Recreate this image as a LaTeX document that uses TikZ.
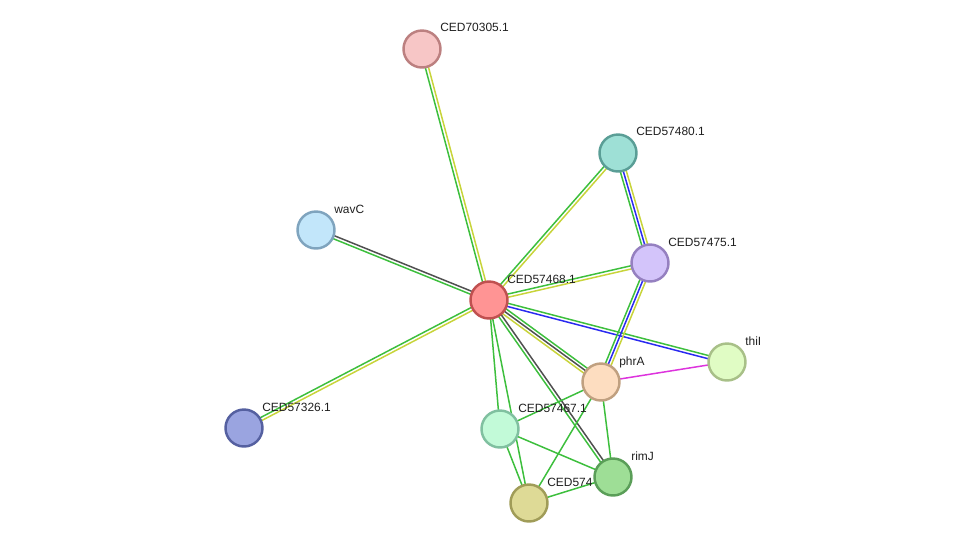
\documentclass[tikz,border=0pt]{standalone}
\usepackage{fontspec}
\setmainfont{Liberation Sans}
\usepackage{tikz}
\usetikzlibrary{calc,backgrounds}

\definecolor{lgreen}{HTML}{3DBF3D}
\definecolor{lyellow}{HTML}{C8D43A}
\definecolor{lgray}{HTML}{505050}
\definecolor{lblue}{HTML}{2A2AF0}
\definecolor{lmagenta}{HTML}{DD33DD}

% one coloured strand of a link, shifted sideways by #1
\newcommand{\lnk}[4][0pt]{%
  \draw[edge, draw=#4] ($(#2)!#1!90:(#3)$) -- ($(#3)!#1!-90:(#2)$);}

\begin{document}
\begin{tikzpicture}[
    x=0.02cm, y=-0.02cm,
    prot/.style={circle, line width=1.4pt, minimum size=0.74cm, inner sep=0pt},
    lbl/.style={anchor=base west, font=\fontsize{6.8}{8}\selectfont, inner sep=0pt, text=black!88},
    edge/.style={line width=0.85pt}
]
  \useasboundingbox (0,0) rectangle (975,549);

  \node[prot, fill={rgb,255:red,247;green,198;blue,198}, draw={rgb,255:red,188;green,128;blue,128}] (n70305) at (422,49) {};
  \node[prot, fill={rgb,255:red,158;green,224;blue,214}, draw={rgb,255:red,90;green,158;blue,150}] (n57480) at (618,153) {};
  \node[prot, fill={rgb,255:red,194;green,230;blue,250}, draw={rgb,255:red,127;green,164;blue,190}] (nwavC) at (316,230) {};
  \node[prot, fill={rgb,255:red,211;green,196;blue,250}, draw={rgb,255:red,149;green,128;blue,192}] (n57475) at (650,263) {};
  \node[prot, fill={rgb,255:red,255;green,148;blue,148}, draw={rgb,255:red,192;green,80;blue,80}] (n468) at (489,300) {};
  \node[prot, fill={rgb,255:red,224;green,252;blue,196}, draw={rgb,255:red,168;green,192;blue,136}] (nthiI) at (727,362) {};
  \node[prot, fill={rgb,255:red,253;green,221;blue,192}, draw={rgb,255:red,192;green,160;blue,128}] (nphrA) at (601,382) {};
  \node[prot, fill={rgb,255:red,154;green,164;blue,224}, draw={rgb,255:red,85;green,96;blue,160}] (n57326) at (244,428) {};
  \node[prot, fill={rgb,255:red,194;green,250;blue,216}, draw={rgb,255:red,128;green,192;blue,160}] (n57467) at (500,429) {};
  \node[prot, fill={rgb,255:red,222;green,218;blue,150}, draw={rgb,255:red,160;green,156;blue,88}] (n574) at (529,503) {};
  \node[prot, fill={rgb,255:red,158;green,222;blue,150}, draw={rgb,255:red,90;green,158;blue,88}] (nrimJ) at (613,477) {};

  \node[lbl] (l70305) at (440,31.8) {CED70305.1};
  \node[lbl] (l57480) at (636,135.8) {CED57480.1};
  \node[lbl] (lwavC) at (334,213.8) {wavC};
  \node[lbl] (l57475) at (668,246.8) {CED57475.1};
  \node[lbl] (l468) at (507,283.8) {CED57468.1};
  \node[lbl] (lthiI) at (745,345.8) {thiI};
  \node[lbl] (lphrA) at (619,365.8) {phrA};
  \node[lbl] (l57326) at (262,411.8) {CED57326.1};
  \node[lbl] (l57467) at (518,412.8) {CED57467.1};
  \node[lbl] (lrimJ) at (631,460.8) {rimJ};
  \node[lbl] (l574) at (547,486.8) {CED574};

  \begin{scope}[on background layer]
    \lnk[0.9pt]{n468}{n70305}{lgreen}
    \lnk[-0.9pt]{n468}{n70305}{lyellow}
    \lnk[0.9pt]{n468}{n57480}{lgreen}
    \lnk[-0.9pt]{n468}{n57480}{lyellow}
    \lnk[0.9pt]{n468}{nwavC}{lgreen}
    \lnk[-0.9pt]{n468}{nwavC}{lgray}
    \lnk[0.9pt]{n468}{n57475}{lgreen}
    \lnk[-0.9pt]{n468}{n57475}{lyellow}
    \lnk[0.9pt]{n468}{n57326}{lyellow}
    \lnk[-0.9pt]{n468}{n57326}{lgreen}
    \lnk[0.9pt]{n468}{nthiI}{lgreen}
    \lnk[-0.9pt]{n468}{nthiI}{lblue}
    \lnk[1.7pt]{n468}{nphrA}{lgreen}
    \lnk{n468}{nphrA}{lgray}
    \lnk[-1.7pt]{n468}{nphrA}{lyellow}
    \lnk[0.9pt]{n468}{nrimJ}{lgray}
    \lnk[-0.9pt]{n468}{nrimJ}{lgreen}
    \lnk{n468}{n57467}{lgreen}
    \lnk{n468}{n574}{lgreen}
    \lnk[1.7pt]{n57480}{n57475}{lyellow}
    \lnk{n57480}{n57475}{lblue}
    \lnk[-1.7pt]{n57480}{n57475}{lgreen}
    \lnk[1.7pt]{n57475}{nphrA}{lyellow}
    \lnk{n57475}{nphrA}{lblue}
    \lnk[-1.7pt]{n57475}{nphrA}{lgreen}
    \lnk{nphrA}{nthiI}{lmagenta}
    \lnk{nphrA}{n57467}{lgreen}
    \lnk{nphrA}{nrimJ}{lgreen}
    \lnk{nphrA}{n574}{lgreen}
    \lnk{n57467}{nrimJ}{lgreen}
    \lnk{n57467}{n574}{lgreen}
    \lnk{n574}{nrimJ}{lgreen}
  \end{scope}
\end{tikzpicture}
\end{document}
